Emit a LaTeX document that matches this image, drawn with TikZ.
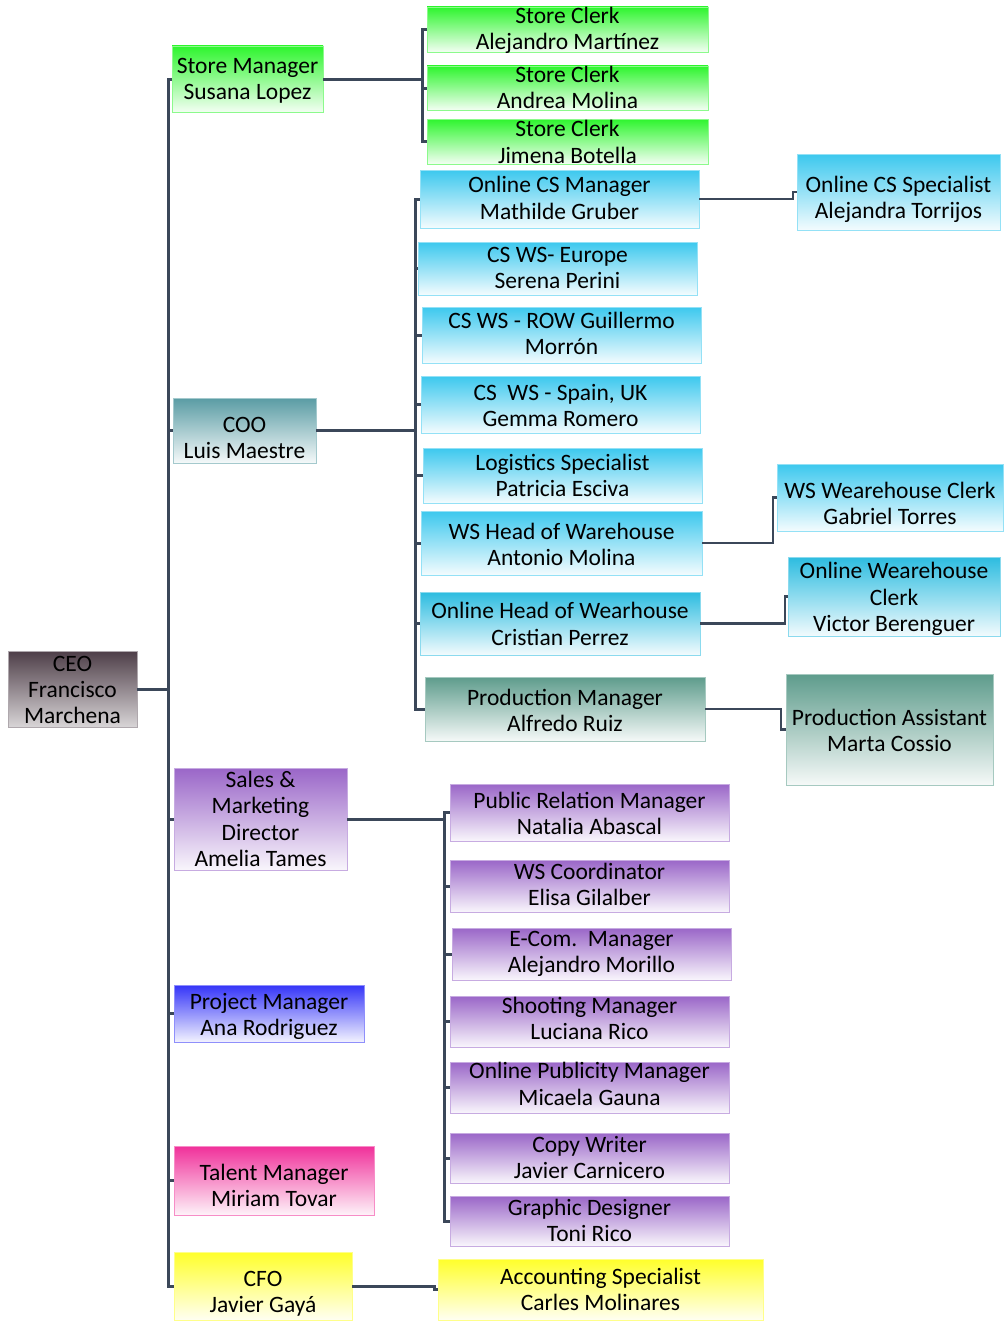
\documentclass[tikz,border=0pt]{standalone}
\usepackage{fontspec}
\setmainfont{Carlito}
\definecolor{conn}{HTML}{3B4759}
\definecolor{cgreen}{HTML}{2EF52E}
\definecolor{ccyan}{HTML}{3CC8EE}
\definecolor{ccyanb}{HTML}{2CBCE0}
\definecolor{cteal}{HTML}{5A9CA4}
\definecolor{cprod}{HTML}{5E9C8C}
\definecolor{cpurp}{HTML}{9A66C8}
\definecolor{cblue}{HTML}{3434F8}
\definecolor{cmag}{HTML}{F0309A}
\definecolor{cyel}{HTML}{FFFF2A}
\definecolor{cceo}{HTML}{4E3E48}
\newcommand{\bx}[8][0]{%
  \node[box, top color=#7, bottom color=#7!6, draw=#7!55!white,
        minimum width={(#5-#3)*1pt}, minimum height={(#6-#4)*1pt}]
        (#2) at ({(#3+#5)/2},{(#4+#6)/2}) {};
  \node[txt] (#2t) at ([yshift={(-3-(#1))*1pt}]#2.center) {#8};}
\begin{document}
\begin{tikzpicture}[x=1pt,y=-1pt,
  box/.style={rectangle, inner sep=0pt, line width=0.8pt},
  txt/.style={inner sep=0pt, align=center,
    font=\fontsize{23.5}{26.3}\selectfont, text=black},
  link/.style={draw=conn, line width=3pt},
  sublink/.style={draw=conn, line width=2.2pt}]
\useasboundingbox (0,0) rectangle (1004,1322);
\fill[white] (0,0) rectangle (1004,1322);
% CEO
\node[box, top color=cceo, bottom color=cceo!22, draw=cceo!45!white,
      minimum width=129pt, minimum height=76pt] (ceo) at (72.5,689) {};
\node[txt] (ceot) at ([yshift=-1pt]ceo.center) {CEO\\Francisco\\Marchena};
% level 1
\bx[-1]{sm}{172}{46}{323}{112}{cgreen}{Store Manager\\Susana Lopez}
\bx[4.5]{coo}{173}{398}{316}{463}{cteal}{COO\\Luis Maestre}
\bx[-3]{smd}{174}{768}{347}{870}{cpurp}{Sales \&\\Marketing\\Director\\Amelia Tames}
\bx[0]{pm}{174}{985}{364}{1042}{cblue}{Project Manager\\Ana Rodriguez}
\bx[2]{tm}{174}{1146}{374}{1215}{cmag}{Talent Manager\\Miriam Tovar}
\bx[5]{cfo}{174}{1252}{352}{1320}{cyel}{CFO\\Javier Gayá}
% store clerks
\bx[-2]{sc1}{427}{7}{708}{52}{cgreen}{Store Clerk\\Alejandro Martínez}
\bx[-3.5]{sc2}{427}{66}{708}{110}{cgreen}{Store Clerk\\Andrea Molina}
\bx[-2.5]{sc3}{427}{119}{708}{164}{cgreen}{Store Clerk\\Jimena Botella}
% COO children
\bx[-4]{ocs}{420}{170}{699}{228}{ccyan}{Online CS Manager\\Mathilde Gruber}
\bx[4.5]{ocss}{797}{154}{1000}{230}{ccyan}{Online CS Specialist\\Alejandra Torrijos}
\bx[-3.5]{cse}{418}{242}{697}{295}{ccyan}{CS WS- Europe\\Serena Perini}
\bx[-4.5]{csr}{422}{307}{701}{363}{ccyan}{CS WS - ROW Guillermo\\Morrón}
\bx[-2]{css}{421}{376}{700}{433}{ccyan}{CS~~WS - Spain, UK\\Gemma Romero}
\bx[-3]{log}{423}{448}{702}{503}{ccyan}{Logistics Specialist\\Patricia Esciva}
\bx[-1.5]{wsh}{421}{511}{702}{575}{ccyan}{WS Head of Warehouse\\Antonio Molina}
\bx[3]{wsc}{777}{464}{1003}{531}{ccyan}{WS Wearehouse Clerk\\Gabriel Torres}
\bx[-2.5]{ohw}{420}{592}{700}{655}{ccyanb}{Online Head of Wearhouse\\Cristian Perrez}
\bx[-0.5]{owc}{788}{557}{1000}{636}{ccyanb}{Online Wearehouse\\Clerk\\Victor Berenguer}
\bx[-1.5]{prm}{425}{677}{705}{741}{cprod}{Production Manager\\Alfredo Ruiz}
\bx[-2]{pra}{786}{674}{993}{785}{cprod}{Production Assistant\\Marta Cossio}
% Sales children
\bx[-2]{prl}{450}{784}{729}{841}{cpurp}{Public Relation Manager\\Natalia Abascal}
\bx[-4.5]{wco}{450}{860}{729}{912}{cpurp}{WS Coordinator\\Elisa Gilalber}
\bx[-3]{eco}{452}{928}{731}{980}{cpurp}{E-Com.~~Manager\\Alejandro Morillo}
\bx[-6]{sho}{450}{996}{729}{1047}{cpurp}{Shooting Manager\\Luciana Rico}
\bx[-6.5]{opm}{450}{1062}{729}{1113}{cpurp}{Online Publicity Manager\\Micaela Gauna}
\bx[-3.5]{cw}{450}{1133}{729}{1183}{cpurp}{Copy Writer\\Javier Carnicero}
\bx[-3.5]{gd}{450}{1196}{729}{1246}{cpurp}{Graphic Designer\\Toni Rico}
% CFO child
\bx[-3]{acc}{438}{1259}{763}{1320}{cyel}{Accounting Specialist\\Carles Molinares}
% bus coordinates
\coordinate (b0) at (168,0);
\coordinate (b1) at (422,0);
\coordinate (b2) at (415,0);
\coordinate (b3) at (444,0);
\coordinate (b4) at (434,0);
\coordinate (b5) at (793,0);
\coordinate (b6) at (773,0);
\coordinate (b7) at (785,0);
\coordinate (b8) at (781,0);
% connectors
\foreach \c in {sm,coo,smd,pm,tm,cfo}
  \draw[link] (ceo.east) -- (ceo.east -| b0) |- (\c.west);
\foreach \c in {sc1,sc2,sc3}
  \draw[link] (sm.east) -- (sm.east -| b1) |- (\c.west);
\foreach \c in {ocs,cse,csr,css,log,wsh,ohw,prm}
  \draw[link] (coo.east) -- (coo.east -| b2) |- (\c.west);
\foreach \c in {prl,wco,eco,sho,opm,cw,gd}
  \draw[link] (smd.east) -- (smd.east -| b3) |- (\c.west);
\draw[link] (cfo.east) -- (cfo.east -| b4) |- (acc.west);
\draw[sublink] (ocs.east) -- (ocs.east -| b5) |- (ocss.west);
\draw[sublink] (wsh.east) -- (wsh.east -| b6) |- (wsc.west);
\draw[sublink] (ohw.east) -- (ohw.east -| b7) |- (owc.west);
\draw[sublink] (prm.east) -- (prm.east -| b8) |- (pra.west);
\end{tikzpicture}
\end{document}
